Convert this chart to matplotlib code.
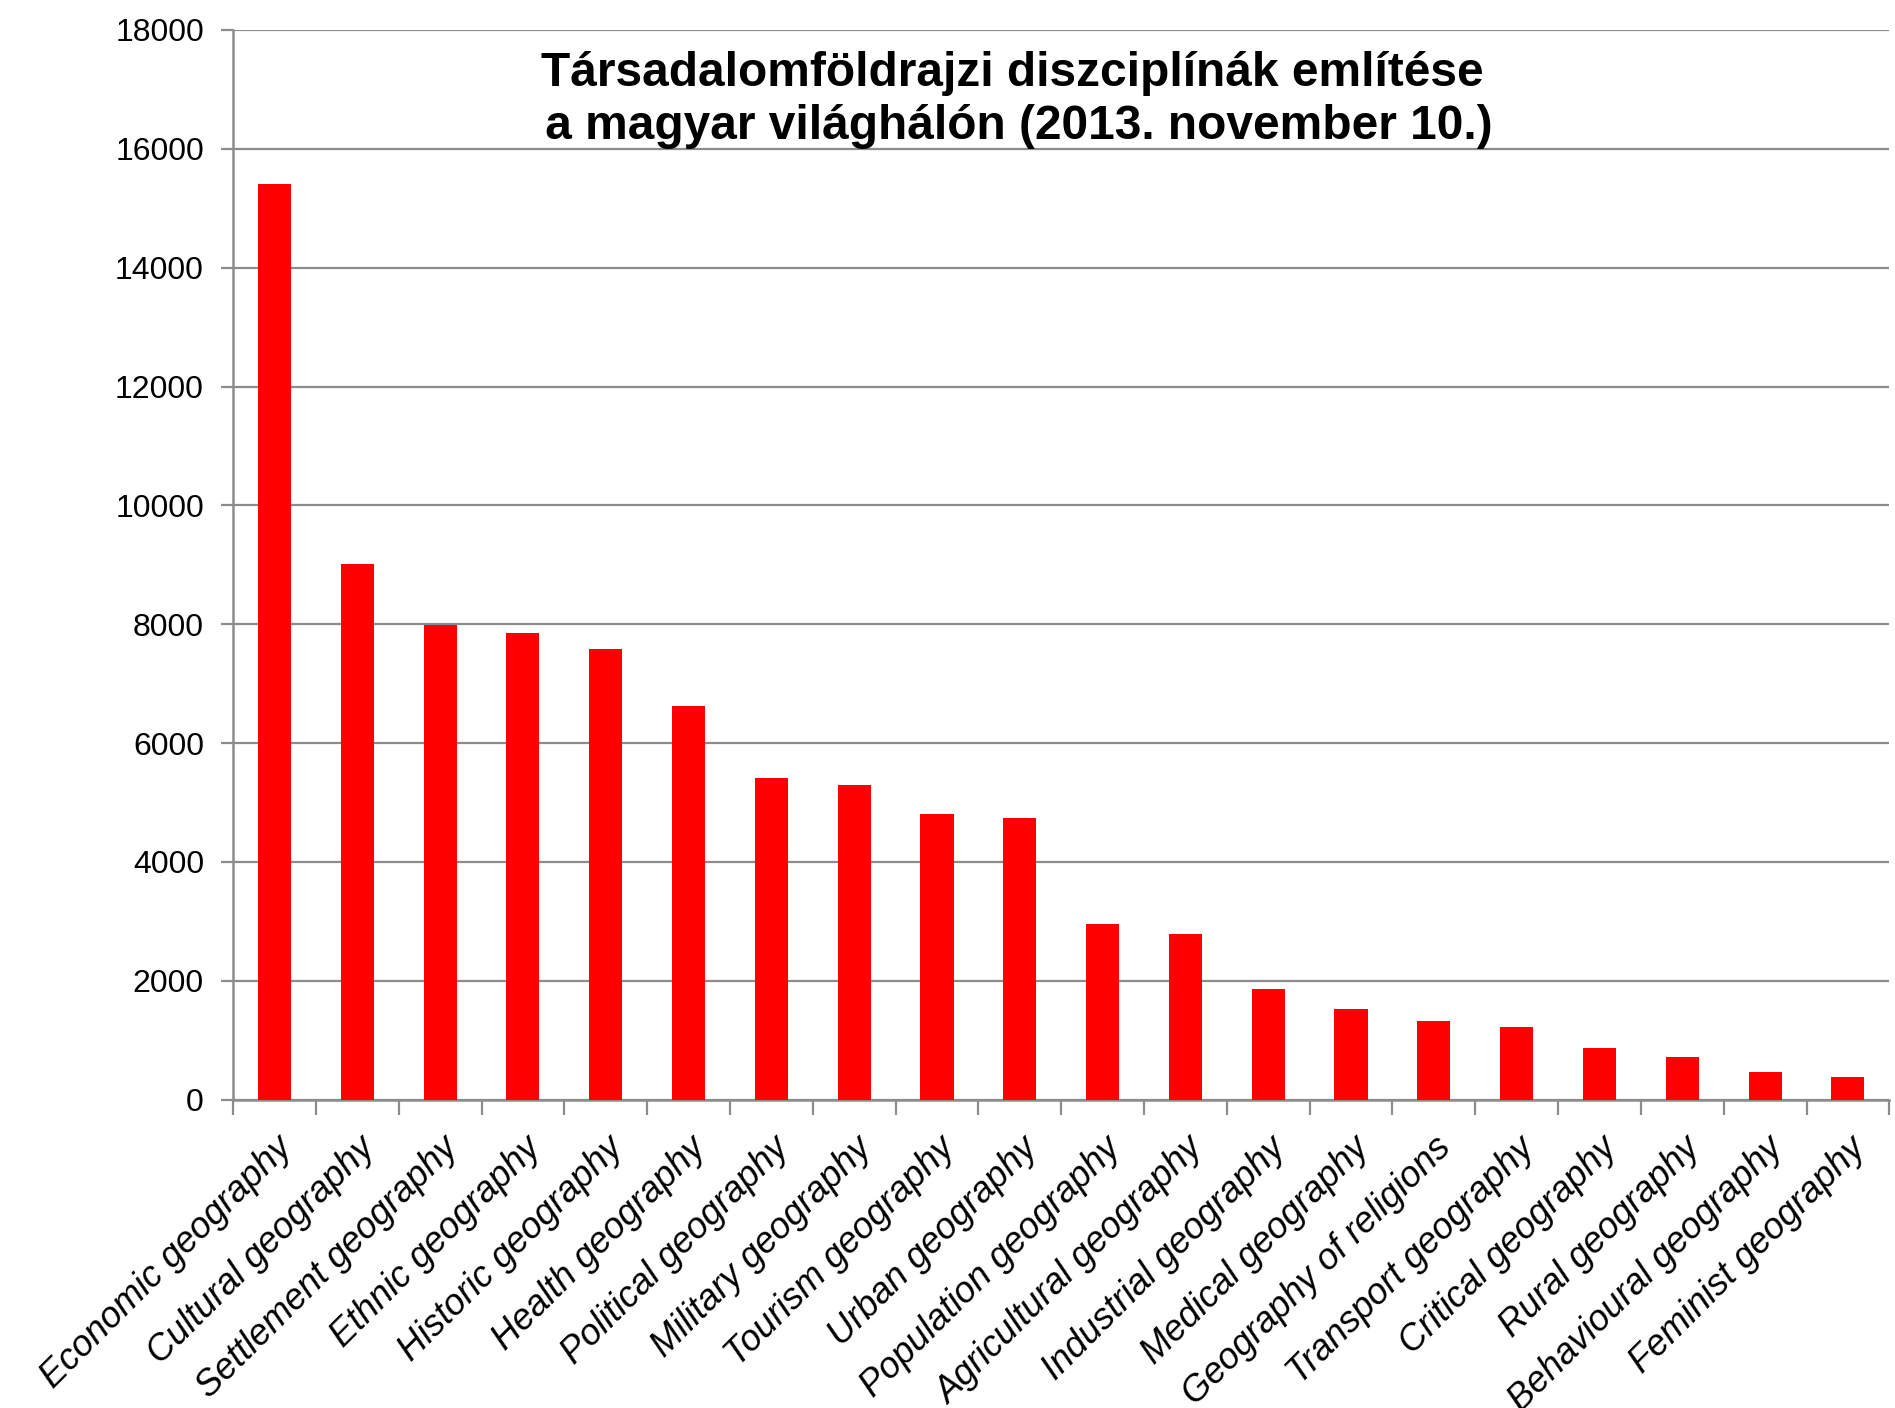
import matplotlib
matplotlib.use("Agg")
import matplotlib.pyplot as plt
import numpy as np

CATEGORIES = [
    "Economic geography",
    "Cultural geography",
    "Settlement geography",
    "Ethnic geography",
    "Historic geography",
    "Health geography",
    "Political geography",
    "Military geography",
    "Tourism geography",
    "Urban geography",
    "Population geography",
    "Agricultural geography",
    "Industrial geography",
    "Medical geography",
    "Geography of religions",
    "Transport geography",
    "Critical geography",
    "Rural geography",
    "Behavioural geography",
    "Feminist geography",
]
VALUES = [15400, 9010, 7980, 7850, 7590, 6630, 5410, 5290, 4800, 4740,
          2950, 2780, 1870, 1525, 1320, 1220, 875, 712, 468, 386]
Y_TICKS = list(range(0, 18001, 2000))
TITLE = "Társadalomföldrajzi diszciplínák említése\n a magyar világhálón (2013. november 10.)"

plt.rcParams["font.family"] = ["Liberation Sans", "DejaVu Sans"]

fig = plt.figure(figsize=(18.95, 14.08), dpi=100)
ax = fig.add_axes([0.123, 0.219, 0.874, 0.7597])

x = np.arange(len(CATEGORIES))
ax.bar(x, VALUES, width=0.4, color="#ff0000", zorder=3)

ax.set_xlim(-0.5, len(CATEGORIES) - 0.5)
ax.set_ylim(0, 18000)
ax.set_yticks(Y_TICKS)
ax.set_yticklabels([str(v) for v in Y_TICKS], fontsize=23)
ax.yaxis.grid(True, color="#8c8c8c", linewidth=1.6, zorder=0)
ax.set_axisbelow(True)

ax.set_xticks(x)
ax.set_xticklabels(CATEGORIES, rotation=45, ha="right", va="top",
                   rotation_mode="anchor", fontsize=26, style="italic")
ax.tick_params(axis="x", which="major", length=0, pad=22)
ax.set_xticks(np.arange(-0.5, len(CATEGORIES)), minor=True)
ax.tick_params(axis="x", which="minor", length=11, width=1.6, color="#8c8c8c")
ax.tick_params(axis="y", length=9, width=1.6, color="#8c8c8c", pad=12)

for side in ("top", "right"):
    ax.spines[side].set_visible(False)
for side in ("left", "bottom"):
    ax.spines[side].set_color("#8c8c8c")
    ax.spines[side].set_linewidth(1.8)

fig.text(0.534, 0.964, TITLE, ha="center", va="top", fontsize=34.5,
         fontweight="bold", linespacing=1.25)

fig.savefig("out.png")
